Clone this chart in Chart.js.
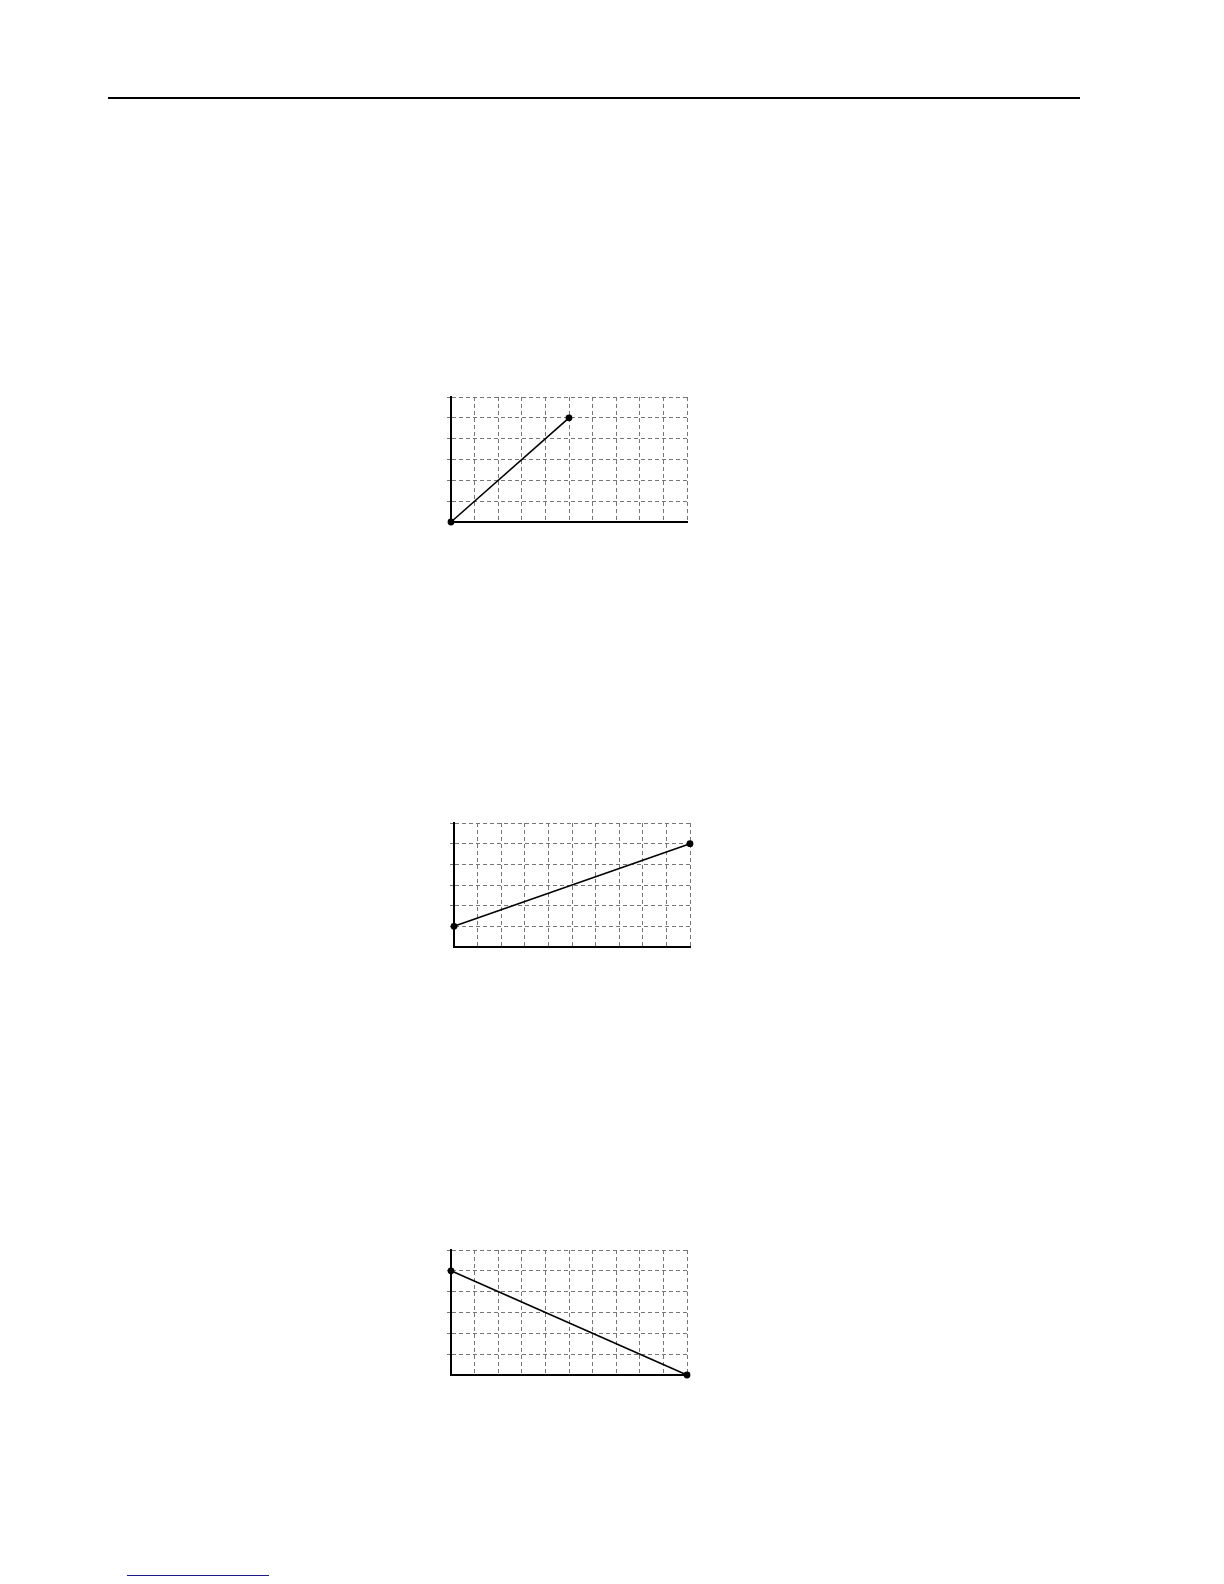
<!DOCTYPE html>
<html>
<head>
<meta charset="utf-8">
<script src="https://cdn.jsdelivr.net/npm/chart.js@4"></script>
<style>
  body { margin: 0; background: #fff; }
  .rule { position: absolute; left: 108px; top: 97px; width: 972px; height: 2px; background: #000; }
  .foot { position: absolute; left: 127px; top: 1575px; width: 142px; height: 1px; background: #1a1a8c; }
  canvas { position: absolute; }
</style>
</head>
<body>
<div class="rule"></div>
<div class="foot"></div>
<canvas id="chart1" width="276" height="145"></canvas>
<canvas id="chart2" width="276" height="144"></canvas>
<canvas id="chart3" width="276" height="145"></canvas>

<script>
// axis ranges (grid every 1 unit, no labels shown)
var xRange = [0, 10];
var yRange = [0, 6];

// the three lines
var chart1X = [0, 5];
var chart1Y = [0, 5];
var chart2X = [0, 10];
var chart2Y = [1, 5];
var chart3X = [0, 10];
var chart3Y = [5, 0];

var padLeft = 16, padRight = 20, padTop = 10, padBottom = 10, tickLen = 4;

function makeChart(id, xs, ys, areaLeft, areaTop) {
  var canvas = document.getElementById(id);
  canvas.style.left = (areaLeft - tickLen - padLeft) + 'px';
  canvas.style.top = (areaTop - padTop) + 'px';

  var points = [];
  for (var i = 0; i < xs.length; i++) {
    points.push({ x: xs[i], y: ys[i] });
  }

  var gridStyle = {
    color: '#777',
    lineWidth: 1,
    tickBorderDash: [4, 3]
  };

  return new Chart(canvas, {
    type: 'scatter',
    data: {
      datasets: [{
        data: points,
        showLine: true,
        borderColor: '#000',
        backgroundColor: '#000',
        borderWidth: 1.6,
        pointRadius: 2.6,
        pointHoverRadius: 2.6,
        clip: false
      }]
    },
    options: {
      responsive: false,
      animation: false,
      devicePixelRatio: 1,
      layout: { padding: { left: padLeft, right: padRight, top: padTop, bottom: padBottom } },
      plugins: { legend: { display: false }, tooltip: { enabled: false } },
      scales: {
        x: {
          type: 'linear', min: xRange[0], max: xRange[1],
          ticks: { display: false, stepSize: 1 },
          grid: Object.assign({ drawTicks: false }, gridStyle),
          border: { display: true, color: '#000', width: 2, dash: [4, 3] }
        },
        y: {
          type: 'linear', min: yRange[0], max: yRange[1],
          ticks: { display: false, stepSize: 1 },
          grid: Object.assign({
            drawTicks: true,
            tickLength: tickLen,
            // no tick stub at the x-axis corner
            tickColor: function (ctx) { return ctx.tick && ctx.tick.value === 0 ? 'rgba(0,0,0,0)' : '#777'; }
          }, gridStyle),
          border: { display: true, color: '#000', width: 2, dash: [4, 3] }
        }
      }
    }
  });
}

makeChart('chart1', chart1X, chart1Y, 451, 397);
makeChart('chart2', chart2X, chart2Y, 454, 823);
makeChart('chart3', chart3X, chart3Y, 451, 1250);
</script>
</body>
</html>
